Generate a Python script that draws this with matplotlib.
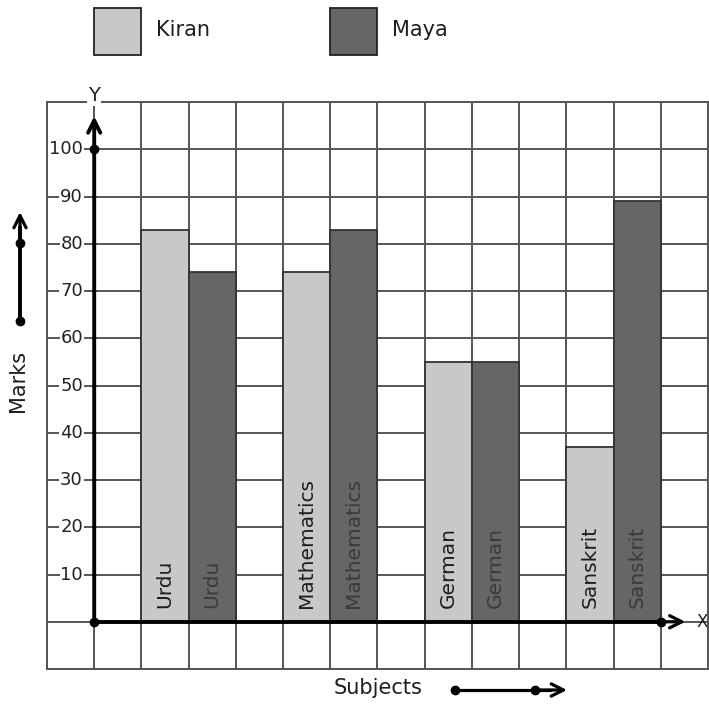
import matplotlib.pyplot as plt
from matplotlib.patches import Rectangle

subjects = ['Urdu', 'Mathematics', 'German', 'Sanskrit']
kiran = [83, 74, 55, 37]
maya = [74, 83, 55, 89]
y_ticks = [10, 20, 30, 40, 50, 60, 70, 80, 90, 100]

KIRAN_COL = '#c8c8c8'
MAYA_COL = '#666666'
GRID_COL = '#555555'

W, H = 709, 707
fig = plt.figure(figsize=(W / 100, H / 100), dpi=100)
fig.patch.set_facecolor('white')


def fx(px):
    return px / W


def fy(py):
    return 1 - py / H


# plotting area: grid from x=47..708 px, y=102..669 px
ax = fig.add_axes([fx(47), fy(669), fx(708) - fx(47), fy(102) - fy(669)])
ax.set_xlim(-1, 13)
ax.set_ylim(-10, 110)
ax.set_xticks(range(-1, 14))
ax.set_yticks(range(-10, 111, 10))
ax.grid(True, color=GRID_COL, linewidth=1.4)
ax.set_axisbelow(True)
ax.tick_params(length=0, labelbottom=False, labelleft=False)
for sp in ax.spines.values():
    sp.set_color(GRID_COL)
    sp.set_linewidth(1.4)

# bars: each subject takes 3 cells (kiran, maya, gap)
for i, name in enumerate(subjects):
    xk = 1 + 3 * i
    ax.bar(xk, kiran[i], width=1, align='edge', color=KIRAN_COL,
           edgecolor='#333333', linewidth=1.3, zorder=3)
    ax.bar(xk + 1, maya[i], width=1, align='edge', color=MAYA_COL,
           edgecolor='#333333', linewidth=1.3, zorder=3)
    ax.text(xk + 0.5, 3, name, rotation=90, ha='center', va='bottom',
            fontsize=14.5, color='#1e1e1e', zorder=4)
    ax.text(xk + 1.5, 3, name, rotation=90, ha='center', va='bottom',
            fontsize=14.5, color='#3a3a3a', zorder=4)

# y tick labels sitting on the grid lines
for v in y_ticks:
    ax.text(-0.24, v, str(v), ha='right', va='center', fontsize=13,
            color='#222222', zorder=5,
            bbox=dict(facecolor='white', edgecolor='none', pad=0.5))

# axes with arrows
ax.plot([0, 12], [0, 0], color='black', linewidth=2.8, zorder=5)
ax.annotate('', xy=(12.58, 0), xytext=(11.9, 0),
            arrowprops=dict(arrowstyle='->', color='black', lw=2.3,
                            mutation_scale=22), zorder=5, annotation_clip=False)
ax.annotate('', xy=(0, 107), xytext=(0, 0),
            arrowprops=dict(arrowstyle='->', color='black', lw=2.8,
                            mutation_scale=22, shrinkA=0, shrinkB=0), zorder=5,
            annotation_clip=False)
ax.plot([0, 0, 12], [100, 0, 0], 'o', color='black', markersize=6, zorder=6,
        clip_on=False)
ax.text(0, 111.3, 'Y', ha='center', va='center', fontsize=14, color='#222222',
        zorder=6, bbox=dict(facecolor='white', edgecolor='none', pad=0.5))
ax.text(12.76, 0, 'X', ha='left', va='center', fontsize=12, color='#222222',
        zorder=6, clip_on=False)

# legend boxes
fig.patches.append(Rectangle((fx(94), fy(55)), fx(141) - fx(94), fy(8) - fy(55),
                             transform=fig.transFigure, facecolor=KIRAN_COL,
                             edgecolor='#222222', linewidth=1.3))
fig.patches.append(Rectangle((fx(330), fy(55)), fx(377) - fx(330), fy(8) - fy(55),
                             transform=fig.transFigure, facecolor=MAYA_COL,
                             edgecolor='#222222', linewidth=1.3))
fig.text(fx(156), fy(30), 'Kiran', ha='left', va='center', fontsize=15, color='#1e1e1e')
fig.text(fx(392), fy(30), 'Maya', ha='left', va='center', fontsize=15, color='#1e1e1e')

# axis titles with their little arrows
fig.text(fx(18), fy(381), 'Marks', rotation=90, ha='center', va='center',
         fontsize=15, color='#1e1e1e')
fig.text(fx(378), fy(688), 'Subjects', ha='center', va='center',
         fontsize=15, color='#1e1e1e')

fig.add_artist(plt.Line2D([fx(20), fx(20)], [fy(321), fy(228)], color='black',
                          linewidth=2.8, transform=fig.transFigure))
ax.annotate('', xy=(fx(20), fy(212)), xytext=(fx(20), fy(240)),
            xycoords='figure fraction', textcoords='figure fraction',
            arrowprops=dict(arrowstyle='->', color='black', lw=2.3,
                            mutation_scale=22, shrinkA=0, shrinkB=0))
fig.add_artist(plt.Line2D([fx(20), fx(20)], [fy(321), fy(243)], linestyle='none',
                          marker='o', markersize=6, color='black',
                          transform=fig.transFigure))

fig.add_artist(plt.Line2D([fx(455), fx(550)], [fy(690), fy(690)], color='black',
                          linewidth=2.3, transform=fig.transFigure))
ax.annotate('', xy=(fx(567), fy(690)), xytext=(fx(535), fy(690)),
            xycoords='figure fraction', textcoords='figure fraction',
            arrowprops=dict(arrowstyle='->', color='black', lw=2.3,
                            mutation_scale=22, shrinkA=0, shrinkB=0))
fig.add_artist(plt.Line2D([fx(455), fx(535)], [fy(690), fy(690)], linestyle='none',
                          marker='o', markersize=6, color='black',
                          transform=fig.transFigure))

plt.savefig('out.png', dpi=100)
